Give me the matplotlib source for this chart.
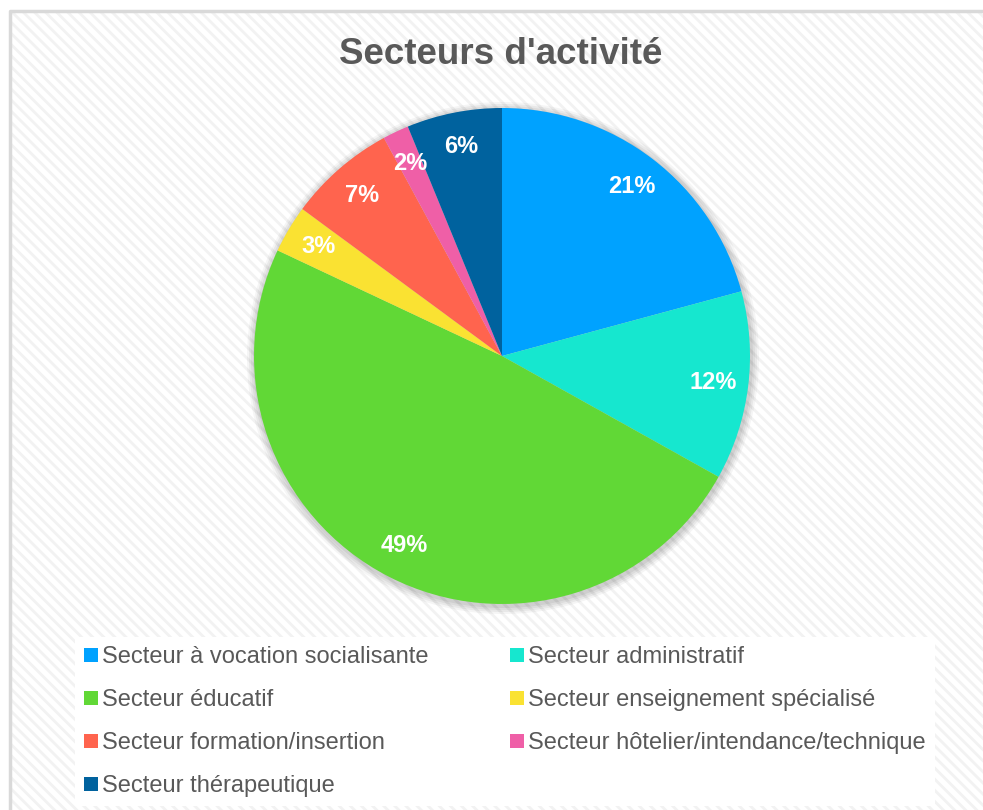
import matplotlib
matplotlib.use("Agg")
import matplotlib.pyplot as plt
from matplotlib.patches import Rectangle, Circle
from matplotlib.lines import Line2D

plt.rcParams["font.family"] = ["Liberation Sans", "DejaVu Sans"]
plt.rcParams["hatch.linewidth"] = 2.0

# data (shares in %)
sectors = [
    "Secteur à vocation socialisante",
    "Secteur administratif",
    "Secteur éducatif",
    "Secteur enseignement spécialisé",
    "Secteur formation/insertion",
    "Secteur hôtelier/intendance/technique",
    "Secteur thérapeutique",
]
shares = [20.8, 12.3, 48.9, 3.1, 7.0, 1.7, 6.2]
colors = ["#00A2FF", "#16E7CF", "#61D836", "#FAE232", "#FF644E", "#EF5FA7", "#00629E"]

W, H = 983, 810
fig = plt.figure(figsize=(W / 100, H / 100), dpi=100)
fig.patch.set_facecolor("white")

ax = fig.add_axes([0, 0, 1, 1])
ax.set_xlim(0, W)
ax.set_ylim(0, H)
ax.set_aspect("equal")
ax.axis("off")

# hatched chart background with a light border
bg = Rectangle((10, 0), W - 10, H - 11, facecolor="white", edgecolor="#f2f2f2",
               hatch="\\\\\\", linewidth=0, zorder=0)
ax.add_patch(bg)
ax.plot([10, 10, W], [0, H - 11, H - 11], color="#d9d9d9", lw=2.5, zorder=1)

cx, cy, r = 502, H - 356, 248

# soft shadow behind the pie
for i, a in enumerate([0.04, 0.05, 0.05, 0.06]):
    ax.add_patch(Circle((cx + 1, cy - 2), r + 8 - 2 * i, facecolor="#000000",
                        alpha=a, lw=0, zorder=1.5))

wedges, _, autotexts = ax.pie(
    shares, colors=colors, startangle=90, counterclock=False,
    center=(cx, cy), radius=r, autopct="%.0f%%", pctdistance=0.86,
    wedgeprops=dict(linewidth=0), frame=True,
    textprops=dict(color="white", fontsize=17, fontweight="bold"),
)
for w in wedges:
    w.set_zorder(2)
for t in autotexts:
    t.set_zorder(3)
ax.set_xlim(0, W)
ax.set_ylim(0, H)
ax.axis("off")

fig.text(501 / W, 1 - 55 / H, "Secteurs d'activité", ha="center", va="center",
         fontsize=26.5, fontweight="bold", color="#595959")

# legend laid out row by row like the original
order = [0, 2, 4, 6, 1, 3, 5]
handles = [Line2D([], [], marker="s", linestyle="none", markersize=10,
                  markerfacecolor=colors[i], markeredgewidth=0) for i in order]
labels = [sectors[i] for i in order]
leg = fig.legend(handles, labels, ncol=2, loc="upper left",
                 bbox_to_anchor=(75 / W, 1 - 637 / H), frameon=True,
                 fancybox=False, facecolor="white", edgecolor="none", framealpha=1,
                 fontsize=17, labelcolor="#595959", handlelength=0.55,
                 handletextpad=0.2, labelspacing=0.88, columnspacing=3.45,
                 borderpad=0.4, borderaxespad=0)

fig.savefig("out.png", dpi=100)
